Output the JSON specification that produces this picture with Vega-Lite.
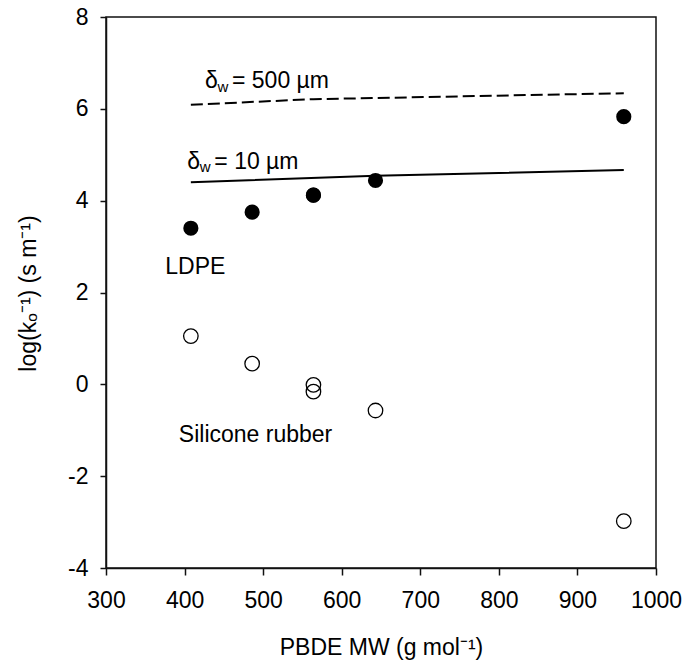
{
  "$schema": "https://vega.github.io/schema/vega-lite/v6.json",
  "autosize": "none",
  "width": 550,
  "height": 551,
  "padding": {"left": 106, "top": 17, "right": 29, "bottom": 96},
  "background": "white",
  "config": {
    "font": "Liberation Sans",
    "view": {"stroke": "#111", "strokeWidth": 1.5},
    "axis": {
      "grid": false,
      "domainColor": "#111",
      "domainWidth": 1.5,
      "tickColor": "#111",
      "tickWidth": 1.5,
      "labelFont": "Liberation Sans",
      "labelFontSize": 23,
      "labelColor": "#000",
      "labelFlush": false,
      "labelOverlap": false,
      "titleFont": "Liberation Sans",
      "titleFontSize": 23,
      "titleFontWeight": "normal",
      "titleColor": "#000"
    }
  },
  "datasets": {
    "pts": [
      {"mw": 408, "ldpe": 3.40, "sr": 1.05},
      {"mw": 486, "ldpe": 3.75, "sr": 0.45},
      {"mw": 564, "ldpe": 4.12, "sr": -0.01},
      {"mw": 564, "ldpe": 4.12, "sr": -0.16},
      {"mw": 643, "ldpe": 4.44, "sr": -0.57},
      {"mw": 959, "ldpe": 5.83, "sr": -2.98}
    ],
    "lines": [
      {"mw": 408, "y": 6.09, "film": "500"},
      {"mw": 564, "y": 6.21, "film": "500"},
      {"mw": 959, "y": 6.34, "film": "500"},
      {"mw": 408, "y": 4.40, "film": "10"},
      {"mw": 643, "y": 4.54, "film": "10"},
      {"mw": 959, "y": 4.67, "film": "10"}
    ],
    "delta": [
      {"x": 426, "y": 6.45, "rest": "= 500 µm"},
      {"x": 403.5, "y": 4.70, "rest": "= 10 µm"}
    ],
    "names": [
      {"x": 375.5, "y": 2.41, "name": "LDPE"},
      {"x": 392.7, "y": -1.25, "name": "Silicone rubber"}
    ]
  },
  "encoding": {
    "x": {"type": "quantitative"},
    "y": {"type": "quantitative"}
  },
  "layer": [
    {
      "data": {"name": "lines"},
      "transform": [{"filter": "datum.film === '500'"}],
      "mark": {"type": "line", "color": "#000", "strokeWidth": 2, "strokeDash": [12, 5]},
      "encoding": {
        "x": {"field": "mw", "type": "quantitative", "scale": {"domain": [300, 1000], "nice": false},
          "axis": {"values": [300, 400, 500, 600, 700, 800, 900, 1000], "format": "d", "tickSize": 7, "labelPadding": 14,
            "title": "PBDE MW (g mol⁻¹)", "titleX": 275, "titleY": 79, "titleBaseline": "middle", "titleAlign": "center"}},
        "y": {"field": "y", "type": "quantitative", "scale": {"domain": [-4, 8], "nice": false},
          "axis": {"values": [-4, -2, 0, 2, 4, 6, 8], "tickSize": 6, "labelPadding": 12,
            "labelExpr": "datum.value < 0 ? '-' + abs(datum.value) : '' + datum.value",
            "title": "log(kₒ⁻¹) (s m⁻¹)", "titleX": -78, "titleY": 276, "titleAngle": -90, "titleBaseline": "middle", "titleAlign": "center"}}
      }
    },
    {
      "data": {"name": "lines"},
      "transform": [{"filter": "datum.film === '10'"}],
      "mark": {"type": "line", "color": "#000", "strokeWidth": 2},
      "encoding": {
        "x": {"field": "mw", "type": "quantitative"},
        "y": {"field": "y", "type": "quantitative"}
      }
    },
    {
      "data": {"name": "pts"},
      "mark": {"type": "point", "shape": "circle", "filled": true, "color": "#000", "size": 230, "opacity": 1},
      "encoding": {
        "x": {"field": "mw", "type": "quantitative"},
        "y": {"field": "ldpe", "type": "quantitative"}
      }
    },
    {
      "data": {"name": "pts"},
      "mark": {"type": "point", "shape": "circle", "filled": false, "stroke": "#000", "fill": "white", "fillOpacity": 0, "strokeWidth": 1.3, "size": 210, "opacity": 1},
      "encoding": {
        "x": {"field": "mw", "type": "quantitative"},
        "y": {"field": "sr", "type": "quantitative"}
      }
    },
    {
      "data": {"name": "delta"},
      "mark": {"type": "text", "text": "δ", "align": "left", "baseline": "alphabetic", "fontSize": 23, "color": "#000"},
      "encoding": {
        "x": {"field": "x", "type": "quantitative"},
        "y": {"field": "y", "type": "quantitative"}
      }
    },
    {
      "data": {"name": "delta"},
      "mark": {"type": "text", "text": "w", "align": "left", "baseline": "alphabetic", "fontSize": 15, "dx": 12.5, "dy": 3.5, "color": "#000"},
      "encoding": {
        "x": {"field": "x", "type": "quantitative"},
        "y": {"field": "y", "type": "quantitative"}
      }
    },
    {
      "data": {"name": "delta"},
      "mark": {"type": "text", "align": "left", "baseline": "alphabetic", "fontSize": 23, "dx": 27, "color": "#000"},
      "encoding": {
        "x": {"field": "x", "type": "quantitative"},
        "y": {"field": "y", "type": "quantitative"},
        "text": {"field": "rest"}
      }
    },
    {
      "data": {"name": "names"},
      "mark": {"type": "text", "align": "left", "baseline": "alphabetic", "fontSize": 23, "color": "#000"},
      "encoding": {
        "x": {"field": "x", "type": "quantitative"},
        "y": {"field": "y", "type": "quantitative"},
        "text": {"field": "name"}
      }
    }
  ]
}
